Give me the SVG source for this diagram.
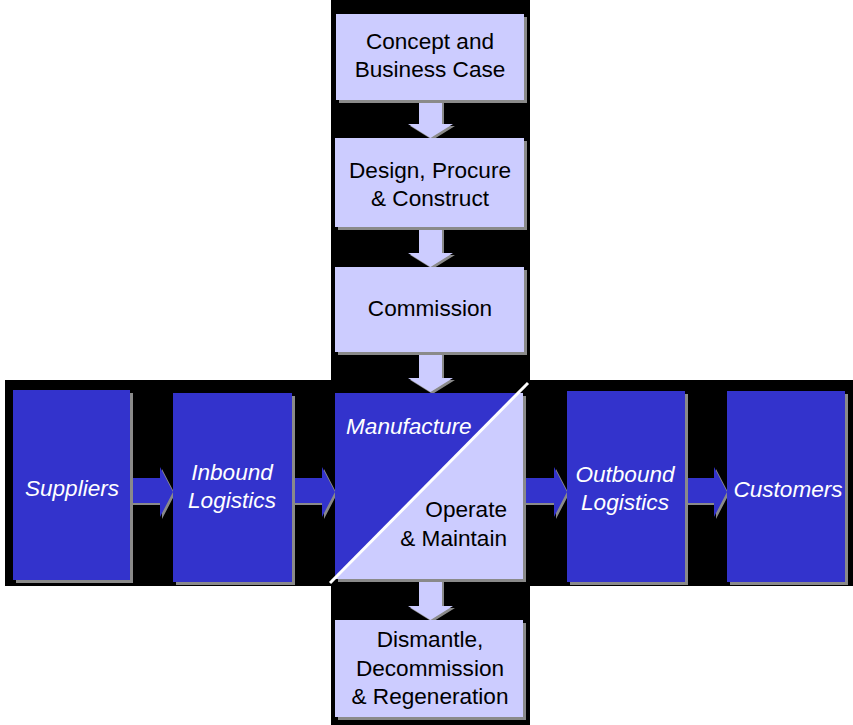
<svg xmlns="http://www.w3.org/2000/svg" width="853" height="725" viewBox="0 0 853 725">
<defs>
<style>
.lt{fill:#CCCCFF}
.dk{fill:#3333CC}
.sh{fill:#8a8a8a}
.t{font-family:"Liberation Sans",Arial,sans-serif;font-size:22.6px;text-anchor:middle;fill:#000}
.w{font-family:"Liberation Sans",Arial,sans-serif;font-size:22.6px;font-style:italic;text-anchor:middle;fill:#fff}
</style>
</defs>
<rect width="853" height="725" fill="#fff"/>
<rect x="331" y="0" width="199" height="725" fill="#000"/>
<rect x="5" y="380" width="848" height="206" fill="#000"/>
<g id="connectors">
<g transform="translate(2,2)" class="sh">
<polygon points="419,100 442,100 442,124 453,124 430.5,138 408,124 419,124"/>
<polygon points="419,228 442,228 442,253 453,253 430.5,267 408,253 419,253"/>
<polygon points="419,352 442,352 442,378 453,378 430.5,392 408,378 419,378"/>
<polygon points="419,579 442,579 442,606 453,606 430.5,620 408,606 419,606"/>
<polygon points="130,478 160,478 160,467 173,492 160,517 160,503 130,503"/>
<polygon points="292,478 322,478 322,467 335,492 322,517 322,503 292,503"/>
<polygon points="523,478 554,478 554,467 567,492 554,517 554,503 523,503"/>
<polygon points="685,478 714,478 714,467 727,492 714,517 714,503 685,503"/>
</g>
<g class="lt">
<polygon points="419,100 442,100 442,124 453,124 430.5,138 408,124 419,124"/>
<polygon points="419,228 442,228 442,253 453,253 430.5,267 408,253 419,253"/>
<polygon points="419,352 442,352 442,378 453,378 430.5,392 408,378 419,378"/>
<polygon points="419,579 442,579 442,606 453,606 430.5,620 408,606 419,606"/>
</g>
<g class="dk">
<polygon points="130,478 160,478 160,467 173,492 160,517 160,503 130,503"/>
<polygon points="292,478 322,478 322,467 335,492 322,517 322,503 292,503"/>
<polygon points="523,478 554,478 554,467 567,492 554,517 554,503 523,503"/>
<polygon points="685,478 714,478 714,467 727,492 714,517 714,503 685,503"/>
</g>
</g>
<g id="concept">
<rect x="339" y="17" width="188" height="86" class="sh"/>
<rect x="336" y="14" width="188" height="86" class="lt"/>
<text class="t" x="430" y="49">Concept and</text>
<text class="t" x="430" y="77">Business Case</text>
</g>
<g id="design">
<rect x="338" y="141" width="189" height="89" class="sh"/>
<rect x="335" y="138" width="189" height="89" class="lt"/>
<text class="t" x="430" y="178">Design, Procure</text>
<text class="t" x="430" y="206">&amp; Construct</text>
</g>
<g id="commission">
<rect x="338" y="270" width="189" height="85" class="sh"/>
<rect x="335" y="267" width="189" height="85" class="lt"/>
<text class="t" x="430" y="316">Commission</text>
</g>
<g id="manufacture">
<rect x="338" y="396" width="188" height="186" class="sh"/>
<rect x="335" y="393" width="188" height="186" class="lt"/>
<polygon points="335,393 518,393 335,578" class="dk"/>
<line x1="330" y1="583" x2="528" y2="383" stroke="#fff" stroke-width="3"/>
<text class="w" x="346" y="434" style="text-anchor:start">Manufacture</text>
<text class="t" x="507" y="517" style="text-anchor:end">Operate</text>
<text class="t" x="507" y="546" style="text-anchor:end">&amp; Maintain</text>
</g>
<g id="dismantle">
<rect x="338" y="623" width="188" height="97" class="sh"/>
<rect x="335" y="620" width="188" height="97" class="lt"/>
<text class="t" x="430" y="647">Dismantle,</text>
<text class="t" x="430" y="676">Decommission</text>
<text class="t" x="430" y="704">&amp; Regeneration</text>
</g>
<g id="suppliers">
<rect x="16" y="393" width="117" height="190" class="sh"/>
<rect x="13" y="390" width="117" height="190" class="dk"/>
<text class="w" x="72" y="496">Suppliers</text>
</g>
<g id="inbound">
<rect x="176" y="396" width="119" height="189" class="sh"/>
<rect x="173" y="393" width="119" height="189" class="dk"/>
<text class="w" x="232" y="480">Inbound</text>
<text class="w" x="232" y="508">Logistics</text>
</g>
<g id="outbound">
<rect x="570" y="394" width="118" height="191" class="sh"/>
<rect x="567" y="391" width="118" height="191" class="dk"/>
<text class="w" x="625" y="482">Outbound</text>
<text class="w" x="625" y="510">Logistics</text>
</g>
<g id="customers">
<rect x="730" y="394" width="118" height="191" class="sh"/>
<rect x="727" y="391" width="118" height="191" class="dk"/>
<text class="w" x="788" y="497">Customers</text>
</g>
</svg>
